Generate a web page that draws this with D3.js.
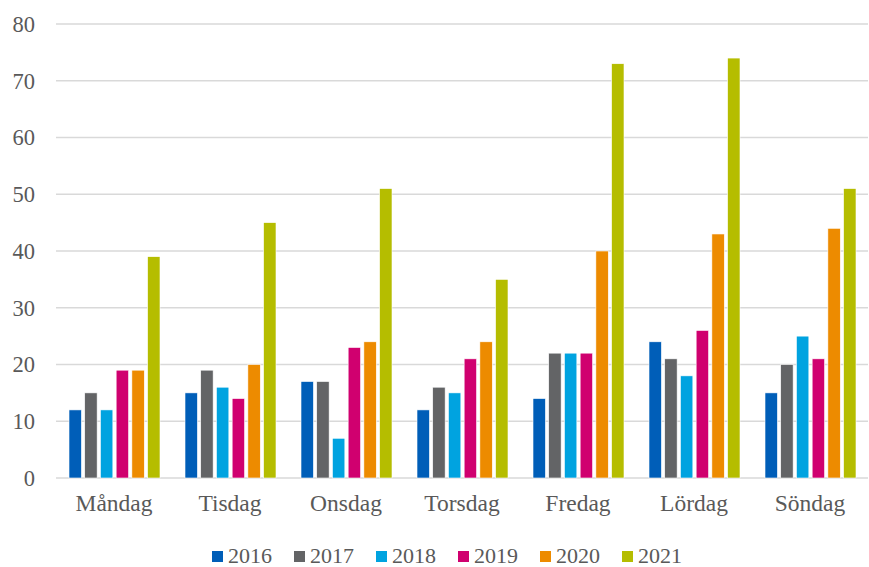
<!DOCTYPE html>
<html>
<head>
<meta charset="utf-8">
<script src="https://cdn.jsdelivr.net/npm/d3@7"></script>
<style>
  body { margin: 0; background: #fff; }
  svg { display: block; font-family: "Liberation Serif", "Times New Roman", serif; }
</style>
</head>
<body>
<div id="chart"></div>
<script>
const days = ["Måndag", "Tisdag", "Onsdag", "Torsdag", "Fredag", "Lördag", "Söndag"];
const years = ["2016", "2017", "2018", "2019", "2020", "2021"];
const colors = ["#005EB8", "#636466", "#00A3E0", "#D0006F", "#ED8B00", "#B5BD00"];

// one array per year, Måndag..Söndag
const v2016 = [12, 15, 17, 12, 14, 24, 15];
const v2017 = [15, 19, 17, 16, 22, 21, 20];
const v2018 = [12, 16, 7, 15, 22, 18, 25];
const v2019 = [19, 14, 23, 21, 22, 26, 21];
const v2020 = [19, 20, 24, 24, 40, 43, 44];
const v2021 = [39, 45, 51, 35, 73, 74, 51];
const series = [v2016, v2017, v2018, v2019, v2020, v2021];
const yTicks = [0, 10, 20, 30, 40, 50, 60, 70, 80];

const width = 869, height = 567;
const plot = { left: 56, right: 868, top: 24, bottom: 478 };

const svg = d3.select("#chart").append("svg")
  .attr("width", width)
  .attr("height", height);

const x0 = d3.scaleBand().domain(days).range([plot.left, plot.right]);
const x1 = d3.scaleBand().domain(years).range([13, 104]).paddingInner(0.21);
const y = d3.scaleLinear().domain([0, 80]).range([plot.bottom, plot.top]);

// gridlines
svg.append("g")
  .selectAll("line")
  .data(yTicks)
  .enter()
  .append("line")
  .attr("x1", plot.left)
  .attr("x2", plot.right)
  .attr("y1", d => y(d))
  .attr("y2", d => y(d))
  .attr("stroke", "#d9d9d9")
  .attr("stroke-width", 1.5);

// y labels
svg.append("g")
  .selectAll("text")
  .data(yTicks)
  .enter()
  .append("text")
  .attr("x", 35)
  .attr("y", d => y(d))
  .attr("dy", "0.35em")
  .attr("text-anchor", "end")
  .attr("font-size", 22.5)
  .attr("fill", "#595959")
  .text(d => d);

// bars
const groups = svg.append("g")
  .selectAll("g")
  .data(days)
  .enter()
  .append("g")
  .attr("transform", d => "translate(" + x0(d) + ",0)");

groups.selectAll("rect")
  .data((d, i) => years.map((yr, j) => ({ year: yr, value: series[j][i], color: colors[j] })))
  .enter()
  .append("rect")
  .attr("x", d => x1(d.year))
  .attr("width", x1.bandwidth())
  .attr("y", d => y(d.value))
  .attr("height", d => y(0) - y(d.value))
  .attr("fill", d => d.color)
  .attr("stroke", "#fff")
  .attr("stroke-width", 0.6);

// category labels
svg.append("g")
  .selectAll("text")
  .data(days)
  .enter()
  .append("text")
  .attr("x", d => x0(d) + x0.bandwidth() / 2)
  .attr("y", 511)
  .attr("text-anchor", "middle")
  .attr("font-size", 23.5)
  .attr("fill", "#595959")
  .text(d => d);

// legend
const legend = svg.append("g")
  .selectAll("g")
  .data(years)
  .enter()
  .append("g")
  .attr("transform", (d, i) => "translate(" + (212 + i * 82) + ",551)");

legend.append("rect")
  .attr("width", 11)
  .attr("height", 11)
  .attr("fill", (d, i) => colors[i]);

legend.append("text")
  .attr("x", 16)
  .attr("y", 12)
  .attr("font-size", 22)
  .attr("fill", "#595959")
  .text(d => d);
</script>
</body>
</html>
